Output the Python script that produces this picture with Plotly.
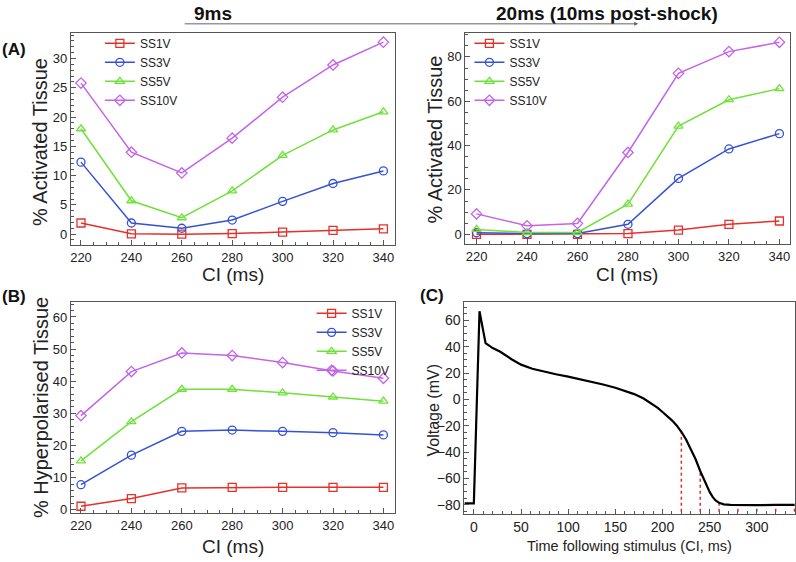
import plotly.graph_objects as go

# ---------------- data ----------------
ci = [220, 240, 260, 280, 300, 320, 340]
series_names = ["SS1V", "SS3V", "SS5V", "SS10V"]

# (A) activated tissue at 9 ms
act_9ms = {
    "SS1V": [1.9, 0.05, 0.0, 0.1, 0.35, 0.65, 0.9],
    "SS3V": [12.3, 1.9, 1.0, 2.4, 5.6, 8.65, 10.8],
    "SS5V": [18.0, 5.7, 2.8, 7.4, 13.45, 17.8, 20.9],
    "SS10V": [25.8, 14.0, 10.45, 16.4, 23.4, 28.9, 32.8],
}
# (A) activated tissue at 20 ms (10 ms post-shock)
act_20ms = {
    "SS1V": [0.0, 0.0, 0.0, 0.3, 1.9, 4.5, 6.0],
    "SS3V": [0.7, 0.3, 0.3, 4.5, 25.2, 38.5, 45.4],
    "SS5V": [2.2, 0.8, 0.8, 13.6, 48.8, 60.7, 65.7],
    "SS10V": [9.2, 3.8, 4.9, 36.9, 72.6, 82.4, 86.6],
}
# (B) hyperpolarised tissue
hyper = {
    "SS1V": [1.1, 3.5, 6.8, 7.0, 7.0, 7.0, 7.0],
    "SS3V": [7.8, 17.0, 24.4, 24.8, 24.4, 24.0, 23.3],
    "SS5V": [15.2, 27.4, 37.5, 37.5, 36.4, 35.1, 33.8],
    "SS10V": [29.3, 43.0, 48.8, 48.0, 45.8, 43.2, 40.9],
}
# (C) action potential trace
ap_time = [-10, 0, 6, 12.4, 20, 28, 40, 50, 62, 74, 87, 100, 112, 125, 137, 150,
           160, 170, 180, 188, 195, 200, 205, 210, 215, 220, 225, 230, 235, 240,
           245, 250, 253, 256, 260, 265, 272, 285, 300, 320, 340]
ap_volt = [-79, -79, 67, 42.7, 39.0, 36.2, 30.5, 26.4, 23.3, 21.0, 19.1, 17.3, 15.5,
           13.5, 11.3, 8.8, 6.5, 4.0, 0.7, -2.9, -6.5, -9.6, -12.6, -15.9, -19.8,
           -24.6, -30.5, -37.3, -45.3, -54.4, -63.0, -70.3, -73.9, -76.5, -78.6,
           -79.7, -80.2, -80.4, -80.3, -80.2, -80.1]
# voltage at each CI (tops of red dotted markers)
ci_volt = [-24.6, -54.4, -78.6, -80.4, -80.3, -80.2, -80.1]

colors = {"SS1V": "#e8302a", "SS3V": "#3552d6", "SS5V": "#6fe23a", "SS10V": "#c464e8"}
symbols = {"SS1V": "square-open", "SS3V": "circle-open",
           "SS5V": "triangle-up-open", "SS10V": "diamond-open"}

FONT = "Liberation Sans, Arial, sans-serif"

fig = go.Figure()

def add_panel(data, xa, ya, legend):
    for name in series_names:
        fig.add_trace(go.Scatter(
            x=ci, y=data[name], name=name, mode="lines+markers",
            line=dict(color=colors[name], width=1.5),
            marker=dict(symbol=symbols[name], size=8, color=colors[name],
                        line=dict(width=1.3, color=colors[name])),
            xaxis=xa, yaxis=ya, legend=legend))

add_panel(act_9ms, "x", "y", "legend")
add_panel(act_20ms, "x2", "y2", "legend2")
add_panel(hyper, "x3", "y3", "legend3")

# (C) red dotted CI markers
dx, dy = [], []
for c, v in zip(ci, ci_volt):
    dx += [c, c, None]
    dy += [-90, v, None]
fig.add_trace(go.Scatter(x=dx, y=dy, mode="lines", showlegend=False,
                         line=dict(color="#d83030", width=1.5, dash="dot"),
                         xaxis="x4", yaxis="y4"))
fig.add_trace(go.Scatter(x=ap_time, y=ap_volt, mode="lines", showlegend=False,
                         line=dict(color="black", width=2.2),
                         xaxis="x4", yaxis="y4"))

AXC = "#555555"

def ax(domain, rng, dtick, mdtick, anchor, size=13):
    return dict(domain=domain, range=rng, anchor=anchor, showline=True, mirror=True,
                linecolor=AXC, linewidth=1, ticks="inside", ticklen=5, tickcolor=AXC,
                dtick=dtick, tick0=0,
                showgrid=False, zeroline=False,
                tickfont=dict(family=FONT, size=size, color="#222"),
                minor=dict(ticks="inside", ticklen=3, tickcolor=AXC, dtick=mdtick,
                           showgrid=False))

W, H = 796, 562
def px(a, b):
    return [a / W, b / W]
def py(top, bot):
    return [1 - bot / H, 1 - top / H]

fig.update_layout(
    xaxis=ax(px(70, 394), [216, 344.4], 20, 5, "y"),
    yaxis=ax(py(33, 247), [-1.9, 34.4], 5, 1, "x"),
    xaxis2=ax(px(465, 790), [215.6, 344.2], 20, 5, "y2"),
    yaxis2=ax(py(33, 246), [-4.5, 90.9], 20, 5, "x2"),
    xaxis3=ax(px(70, 394), [216, 344.4], 20, 5, "y3"),
    yaxis3=ax(py(304, 517), [-1.1, 64.7], 10, 2, "x3"),
    xaxis4=ax(px(464, 795), [-10, 340.5], 50, 10, "y4", size=14),
    yaxis4=ax(py(304, 518), [-87.3, 74.1], 20, 5, "x4", size=14),
)

leg_common = dict(bgcolor="rgba(0,0,0,0)", borderwidth=0, xanchor="left", yanchor="top",
                  font=dict(family=FONT, size=12, color="#222"), tracegroupgap=0)
fig.update_layout(
    legend=dict(x=99 / W, y=1 - 29 / H, **leg_common),
    legend2=dict(x=469 / W, y=1 - 29 / H, **leg_common),
    legend3=dict(x=311 / W, y=1 - 301 / H, **leg_common),
)

ann = []
def text(x, y, t, size, bold=False, angle=0, color="#222"):
    ann.append(dict(x=x / W, y=1 - y / H, xref="paper", yref="paper", text=t,
                    showarrow=False, textangle=angle, xanchor="center", yanchor="middle",
                    font=dict(family=FONT, size=size, color=color,
                              weight="bold" if bold else "normal")))

# headers
text(212, 14, "9ms", 19, bold=True, color="#111")
text(607, 14, "20ms (10ms post-shock)", 19, bold=True, color="#111")
ann.append(dict(x=638 / W, y=1 - 24 / H, xref="paper", yref="paper", text="",
                showarrow=True, ax=-455, ay=0, arrowhead=2, arrowsize=0.8,
                arrowwidth=1, arrowcolor="#666"))
# panel labels
text(13, 50, "(A)", 17, bold=True, color="#111")
text(13, 299, "(B)", 17, bold=True, color="#111")
text(432, 298, "(C)", 17, bold=True, color="#111")
# axis titles
text(39, 143, "% Activated Tissue", 20, angle=-90)
text(232, 276, "CI (ms)", 19)
text(435, 140, "% Activated Tissue", 20, angle=-90)
text(627, 276, "CI (ms)", 19)
text(40, 410, "% Hyperpolarised Tissue", 20, angle=-90)
text(232, 550, "CI (ms)", 19)
text(433, 413, "Voltage (mV)", 16, angle=-90)
text(629, 550, "Time following stimulus (CI, ms)", 14.5)

fig.update_layout(annotations=ann, width=W, height=H,
                  margin=dict(l=0, r=0, t=0, b=0),
                  paper_bgcolor="white", plot_bgcolor="white",
                  font=dict(family=FONT, color="#222"))

fig.write_html("out.html", config={"displayModeBar": False},
               post_script="document.body.style.margin='0px';"
                           "document.body.style.overflow='hidden';")
